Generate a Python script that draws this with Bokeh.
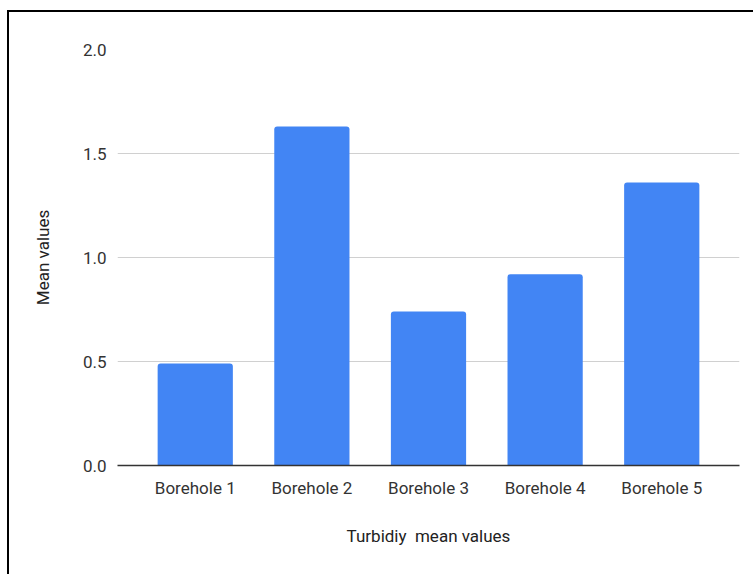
from bokeh.plotting import figure
from bokeh.models import FactorRange, Range1d, FixedTicker, ColumnDataSource
from bokeh.embed import file_html
from bokeh.resources import INLINE

# Mean turbidity per borehole
boreholes = ["Borehole 1", "Borehole 2", "Borehole 3", "Borehole 4", "Borehole 5"]
mean_values = [0.49, 1.63, 0.74, 0.92, 1.36]
y_ticks = [0.0, 0.5, 1.0, 1.5, 2.0]
y_tick_labels = ["0.0", "0.5", "1.0", "1.5", "2.0"]

FONT = "Roboto"

source = ColumnDataSource(data=dict(x=boreholes, top=mean_values))

p = figure(
    width=744, height=562,
    x_range=FactorRange(*boreholes, range_padding=1 / 15, range_padding_units="percent"),
    y_range=Range1d(0, 2),
    output_backend="svg", toolbar_location=None,
    min_border_left=108, min_border_right=14,
    min_border_top=37, min_border_bottom=109,
    frame_width=622, frame_height=416,
)
p.margin = (10, 0, 0, 7)
p.styles = {"border-left": "2px solid black", "border-top": "2px solid black"}
p.outline_line_color = None
p.background_fill_color = "white"
p.border_fill_color = "white"

p.vbar(x="x", top="top", width=0.645, source=source,
       fill_color="#4285F4", line_color=None, border_radius=(3, 3, 0, 0))

# axes (non-breaking spaces keep the double gap in the title)
p.xaxis.axis_label = "Turbidiy\u00a0\u00a0mean values"
p.yaxis.axis_label = "Mean values"
for ax in (p.xaxis[0], p.yaxis[0]):
    ax.major_tick_line_color = None
    ax.minor_tick_line_color = None
    ax.major_label_text_font = FONT
    ax.major_label_text_font_size = "17px"
    ax.major_label_text_color = "#333333"
    ax.axis_label_text_font = FONT
    ax.axis_label_text_font_size = "17px"
    ax.axis_label_text_font_style = "normal"
    ax.axis_label_text_color = "#222222"

p.xaxis.axis_line_color = "#333333"
p.xaxis.axis_line_width = 1.3
p.xaxis.major_label_standoff = 6
p.xaxis.axis_label_standoff = 25

p.yaxis.axis_line_color = None
p.yaxis.ticker = FixedTicker(ticks=y_ticks)
p.yaxis.major_label_overrides = {t: l for t, l in zip(y_ticks, y_tick_labels)}
p.yaxis.major_label_standoff = 5
p.yaxis.axis_label_standoff = 27

p.xgrid.grid_line_color = None
p.ygrid.grid_line_color = "#d0d0d0"
p.ygrid.grid_line_width = 1.2
p.ygrid.ticker = FixedTicker(ticks=y_ticks)

open("out.html", "w").write(file_html(p, INLINE))
